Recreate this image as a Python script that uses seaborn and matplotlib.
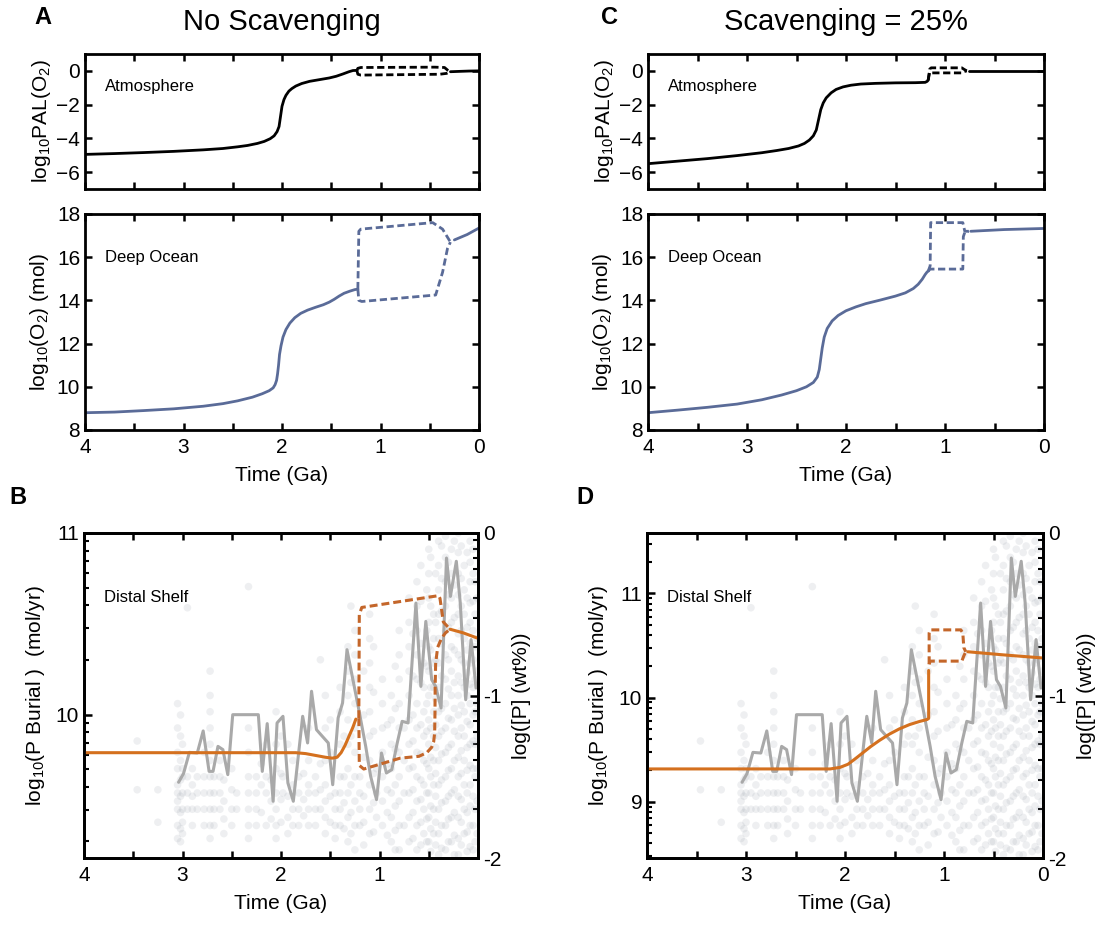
import numpy as np
import matplotlib
matplotlib.use('Agg')
import matplotlib.pyplot as plt
import seaborn as sns
from matplotlib.ticker import FixedLocator, NullFormatter, LogLocator

sns.set_style('ticks')
plt.rcParams['font.family'] = ['Liberation Sans', 'DejaVu Sans']
plt.rcParams['mathtext.fontset'] = 'custom'
plt.rcParams['mathtext.rm'] = 'Liberation Sans'
plt.rcParams['mathtext.it'] = 'Liberation Sans:italic'
plt.rcParams['axes.linewidth'] = 2.0
plt.rcParams['axes.edgecolor'] = 'black'
for k in ('text.color', 'axes.labelcolor', 'xtick.color', 'ytick.color'):
    plt.rcParams[k] = 'black'

# ---------------- A : no scavenging ----------------
a_atm_age = [4.0, 3.7, 3.4, 3.1, 2.8, 2.6, 2.45, 2.35, 2.25, 2.18, 2.12, 2.08, 2.05,
             2.03, 2.02, 2.01, 2.0, 1.98, 1.96, 1.93, 1.9, 1.86, 1.8, 1.72, 1.62,
             1.52, 1.45, 1.38, 1.32, 1.28, 1.24]
a_atm_val = [-4.95, -4.9, -4.84, -4.77, -4.68, -4.6, -4.5, -4.42, -4.3, -4.18, -4.02,
             -3.85, -3.6, -3.3, -2.9, -2.5, -2.1, -1.7, -1.45, -1.2, -1.05, -0.9,
             -0.75, -0.62, -0.52, -0.42, -0.32, -0.18, -0.05, 0.02, 0.03]
a_atm_up_age = [1.24, 1.23, 1.2, 0.45, 0.35, 0.32, 0.29]
a_atm_up_val = [0.03, 0.15, 0.2, 0.22, 0.2, 0.05, -0.05]
a_atm_lo_age = [1.24, 1.23, 1.2, 0.4, 0.33, 0.29]
a_atm_lo_val = [0.03, -0.2, -0.25, -0.2, -0.15, -0.05]
a_atm_tail_age = [0.29, 0.2, 0.1, 0.0]
a_atm_tail_val = [-0.05, -0.03, -0.01, 0.0]

a_oc_age = [4.0, 3.7, 3.4, 3.1, 2.8, 2.6, 2.45, 2.3, 2.2, 2.13, 2.09, 2.07, 2.055,
            2.045, 2.035, 2.025, 2.01, 1.99, 1.96, 1.92, 1.87, 1.81, 1.74, 1.66,
            1.58, 1.52, 1.47, 1.42, 1.37, 1.31, 1.26, 1.23]
a_oc_val = [8.8, 8.83, 8.9, 8.98, 9.1, 9.22, 9.35, 9.52, 9.68, 9.82, 9.95, 10.1, 10.3,
            10.6, 11.0, 11.5, 11.9, 12.3, 12.65, 12.95, 13.2, 13.4, 13.55, 13.68,
            13.8, 13.92, 14.05, 14.2, 14.33, 14.43, 14.5, 14.52]
a_oc_up_age = [1.23, 1.22, 1.2, 0.47, 0.37, 0.29]
a_oc_up_val = [14.52, 17.2, 17.3, 17.6, 17.3, 16.7]
a_oc_lo_age = [1.23, 1.22, 1.19, 0.44, 0.37, 0.32, 0.29]
a_oc_lo_val = [14.52, 14.0, 13.95, 14.25, 15.3, 16.4, 16.7]
a_oc_tail_age = [0.25, 0.12, 0.0]
a_oc_tail_val = [16.8, 17.05, 17.35]

# ---------------- C : scavenging = 25% ----------------
c_atm_age = [4.0, 3.7, 3.4, 3.1, 2.85, 2.7, 2.58, 2.48, 2.42, 2.37, 2.33, 2.3, 2.285,
             2.27, 2.255, 2.23, 2.2, 2.15, 2.1, 2.03, 1.95, 1.85, 1.7, 1.5, 1.3,
             1.2, 1.18, 1.17]
c_atm_val = [-5.5, -5.35, -5.2, -5.02, -4.85, -4.72, -4.6, -4.45, -4.3, -4.1, -3.85,
             -3.5, -3.1, -2.7, -2.3, -1.9, -1.6, -1.3, -1.1, -0.95, -0.85, -0.78,
             -0.74, -0.71, -0.7, -0.68, -0.62, -0.55]
c_atm_up_age = [1.17, 1.155, 1.14, 0.83, 0.81, 0.78]
c_atm_up_val = [-0.55, 0.1, 0.18, 0.18, 0.1, 0.0]
c_atm_lo_age = [1.17, 1.155, 1.14, 0.83, 0.81, 0.78]
c_atm_lo_val = [-0.55, -0.08, -0.12, -0.12, -0.05, 0.0]
c_atm_tail_age = [0.76, 0.4, 0.0]
c_atm_tail_val = [0.0, 0.0, 0.0]

c_oc_age = [4.0, 3.7, 3.4, 3.1, 2.85, 2.65, 2.5, 2.4, 2.33, 2.29, 2.27, 2.255, 2.24,
            2.22, 2.19, 2.14, 2.08, 2.0, 1.9, 1.8, 1.65, 1.5, 1.4, 1.32, 1.27, 1.23,
            1.2, 1.18, 1.17]
c_oc_val = [8.8, 8.92, 9.05, 9.2, 9.4, 9.62, 9.82, 10.0, 10.2, 10.45, 10.8, 11.3, 11.8,
            12.3, 12.7, 13.05, 13.3, 13.52, 13.7, 13.85, 14.02, 14.2, 14.35, 14.55,
            14.75, 14.98, 15.2, 15.32, 15.35]
c_oc_up_age = [1.17, 1.15, 1.145, 0.82, 0.80, 0.76]
c_oc_up_val = [15.35, 15.6, 17.6, 17.6, 17.2, 17.2]
c_oc_lo_age = [1.17, 1.15, 0.82, 0.815, 0.80, 0.76]
c_oc_lo_val = [15.35, 15.45, 15.45, 16.95, 17.15, 17.2]
c_oc_tail_age = [0.74, 0.4, 0.0]
c_oc_tail_val = [17.2, 17.28, 17.33]

# ---------------- B / D : distal shelf P burial (log10 mol/yr) ----------------
b_p_age = [4.0, 1.85, 1.75, 1.65, 1.55, 1.48, 1.43, 1.39, 1.35, 1.31, 1.27, 1.24]
b_p_val = [9.79, 9.79, 9.785, 9.775, 9.765, 9.76, 9.765, 9.79, 9.83, 9.88, 9.93, 9.975]
b_p_up_age = [1.21, 1.205, 1.18, 0.40, 0.386, 0.352, 0.284]
b_p_up_val = [9.98, 10.55, 10.59, 10.655, 10.64, 10.51, 10.47]
b_p_lo_age = [1.21, 1.205, 1.16, 0.79, 0.6, 0.52, 0.47, 0.45, 0.44, 0.437, 0.435,
              0.43, 0.41, 0.37, 0.33, 0.284]
b_p_lo_val = [9.98, 9.72, 9.70, 9.76, 9.77, 9.79, 9.82, 9.85, 9.9, 10.0, 10.15,
              10.28, 10.37, 10.42, 10.45, 10.47]
b_p_tail_age = [0.284, 0.15, 0.0]
b_p_tail_val = [10.47, 10.45, 10.42]

d_p_age = [4.0, 2.15, 2.05, 1.97, 1.9, 1.82, 1.74, 1.65, 1.55, 1.45, 1.35, 1.25,
           1.17, 1.155, 1.155]
d_p_val = [9.315, 9.315, 9.33, 9.36, 9.41, 9.47, 9.53, 9.59, 9.65, 9.70, 9.74, 9.77,
           9.79, 9.80, 10.26]
d_p_up_age = [1.15, 1.15, 1.14, 0.83, 0.81, 0.80, 0.78]
d_p_up_val = [10.32, 10.62, 10.65, 10.65, 10.62, 10.48, 10.44]
d_p_lo_age = [1.15, 1.14, 0.82, 0.80, 0.78]
d_p_lo_val = [10.32, 10.35, 10.35, 10.40, 10.44]
d_p_tail_age = [0.76, 0.4, 0.0]
d_p_tail_val = [10.44, 10.41, 10.38]

# ---------------- shale P data, log10 wt% (right axis) ----------------
pmean_age = [3.04, 2.99, 2.93, 2.85, 2.79, 2.73, 2.69, 2.64, 2.59, 2.54, 2.49, 2.23,
             2.19, 2.14, 2.08, 2.04, 1.98, 1.93, 1.875, 1.78, 1.73, 1.69, 1.64, 1.61,
             1.52, 1.475, 1.42, 1.375, 1.33, 1.29, 1.21, 1.14, 1.09, 1.03, 0.98, 0.93,
             0.875, 0.82, 0.77, 0.71, 0.63, 0.58, 0.53, 0.47, 0.43, 0.375, 0.32, 0.28,
             0.22, 0.18, 0.125, 0.07, 0.02]
pmean_val = [-1.534, -1.481, -1.350, -1.354, -1.218, -1.467, -1.467, -1.313, -1.333,
             -1.487, -1.118, -1.118, -1.467, -1.173, -1.651, -1.169, -1.128, -1.538,
             -1.651, -1.128, -1.292, -0.974, -1.210, -1.231, -1.292, -1.549, -1.138,
             -1.046, -0.718, -0.841, -1.087, -1.313, -1.497, -1.641, -1.354, -1.477,
             -1.456, -1.292, -1.159, -1.169, -0.431, -0.944, -0.544, -0.903, -0.944,
             -1.077, -0.154, -0.390, -0.174, -0.431, -1.026, -0.656, -0.954]

pdata_col_age = [3.46, 3.25, 3.05, 3.02, 3.0, 2.95, 2.9, 2.85, 2.78, 2.72, 2.68, 2.62,
                 2.58, 2.5, 2.45, 2.33, 2.25, 2.2, 2.15, 2.1, 2.05, 2.0, 1.98, 1.93,
                 1.88, 1.82, 1.77, 1.72, 1.65, 1.6, 1.55, 1.5, 1.45, 1.4, 1.36, 1.32,
                 1.29, 1.25, 1.2, 1.16, 1.1, 1.06, 1.03, 0.97, 0.92, 0.88, 0.84, 0.8,
                 0.75, 0.7, 0.66, 0.62, 0.58, 0.55, 0.52, 0.5, 0.48, 0.45, 0.43, 0.4,
                 0.37, 0.33, 0.3, 0.27, 0.24, 0.2, 0.17, 0.14, 0.11, 0.08, 0.05, 0.03,
                 0.01]
pdata_col_val = [
    [-1.28, -1.58],
    [-1.58, -1.78],
    [-1.05, -1.2, -1.35, -1.45, -1.55, -1.6, -1.65, -1.7, -1.8, -1.88],
    [-1.12, -1.25, -1.4, -1.52, -1.62, -1.72, -1.82, -1.9],
    [-1.3, -1.45, -1.5, -1.6, -1.7, -1.78, -1.85],
    [-0.46, -1.5, -1.6, -1.7],
    [-1.45, -1.55, -1.62, -1.7, -1.8],
    [-1.5, -1.6, -1.7],
    [-1.35, -1.5, -1.6, -1.7, -1.8],
    [-0.85, -1.0, -1.1, -1.2, -1.3, -1.4, -1.5, -1.6, -1.7, -1.8, -1.88],
    [-1.5, -1.6, -1.7, -1.8],
    [-1.4, -1.5, -1.6, -1.7],
    [-1.52, -1.65, -1.76, -1.85],
    [-1.45, -1.58, -1.7, -1.8],
    [-1.6, -1.7],
    [-0.33, -1.2, -1.35, -1.5, -1.6, -1.7, -1.8, -1.88],
    [-1.5, -1.6, -1.7, -1.8],
    [-1.42, -1.55, -1.72],
    [-1.3, -1.5, -1.6, -1.8],
    [-1.52, -1.65, -1.76],
    [-1.1, -1.3, -1.45, -1.6, -1.7, -1.8, -1.88],
    [-1.25, -1.48, -1.64, -1.78],
    [-1.5, -1.6],
    [-1.3, -1.62, -1.75, -1.85],
    [-1.4, -1.55, -1.6, -1.7, -1.8],
    [-1.5, -1.6, -1.7, -1.8],
    [-1.48, -1.64, -1.74],
    [-1.2, -1.4, -1.55, -1.6, -1.7, -1.8],
    [-1.5, -1.6, -1.7, -1.8],
    [-0.78, -1.42, -1.58, -1.7],
    [-1.0, -1.2, -1.4, -1.55, -1.65, -1.75, -1.85],
    [-1.15, -1.35, -1.62, -1.78],
    [-1.6, -1.7, -1.8, -1.88],
    [-0.95, -1.1, -1.3, -1.5, -1.6, -1.7, -1.8],
    [-1.25, -1.5, -1.66, -1.82],
    [-0.7, -0.85, -1.0, -1.15, -1.3, -1.45, -1.6, -1.75, -1.9],
    [-0.45, -0.92, -1.25, -1.55, -1.72, -1.85],
    [-0.6, -0.75, -0.9, -1.05, -1.2, -1.35, -1.5, -1.65, -1.8, -1.95],
    [-1.5, -1.6, -1.7, -1.8],
    [-0.85, -1.12, -1.38, -1.62, -1.78, -1.92],
    [-0.5, -0.65, -0.8, -0.95, -1.1, -1.25, -1.4, -1.55, -1.7, -1.85],
    [-0.7, -0.98, -1.22, -1.48, -1.66, -1.84],
    [-1.45, -1.6, -1.75],
    [-0.9, -1.05, -1.2, -1.35, -1.5, -1.65, -1.8],
    [-1.18, -1.42, -1.58, -1.72, -1.86],
    [-1.0, -1.15, -1.3, -1.45, -1.6, -1.75, -1.9],
    [-0.82, -1.08, -1.33, -1.55, -1.68, -1.83, -1.95],
    [-0.6, -0.75, -0.9, -1.05, -1.2, -1.35, -1.5, -1.65, -1.8, -1.95],
    [-1.2, -1.4, -1.6, -1.8],
    [-0.4, -0.55, -0.7, -0.85, -1.0, -1.15, -1.3, -1.45, -1.6, -1.75, -1.9],
    [-0.62, -0.88, -1.12, -1.28, -1.44, -1.58, -1.72, -1.88],
    [-0.3, -0.45, -0.6, -0.75, -0.9, -1.05, -1.2, -1.35, -1.5, -1.65, -1.8, -1.95],
    [-0.2, -0.42, -0.68, -0.92, -1.18, -1.36, -1.52, -1.64, -1.78, -1.92],
    [-0.8, -0.95, -1.1, -1.25, -1.4, -1.55, -1.7, -1.85],
    [-0.35, -0.6, -0.82, -1.05, -1.22, -1.42, -1.6, -1.76, -1.9],
    [-0.1, -0.25, -0.4, -0.55, -0.7, -0.85, -1.0, -1.15, -1.3, -1.45, -1.6, -1.75, -1.9],
    [-0.15, -0.45, -0.72, -0.95, -1.2, -1.38, -1.5, -1.68, -1.82, -1.96],
    [-0.5, -0.65, -0.8, -0.95, -1.1, -1.25, -1.4, -1.55, -1.7, -1.85],
    [-0.25, -0.55, -0.78, -1.02, -1.18, -1.32, -1.48, -1.62, -1.78, -1.92],
    [-0.05, -0.2, -0.35, -0.5, -0.65, -0.8, -0.95, -1.1, -1.25, -1.4, -1.55, -1.7,
     -1.85, -1.98],
    [-0.08, -0.28, -0.48, -0.68, -0.88, -1.08, -1.22, -1.36, -1.52, -1.66, -1.8, -1.94],
    [-0.02, -0.15, -0.3, -0.45, -0.6, -0.75, -0.9, -1.05, -1.2, -1.35, -1.5, -1.65,
     -1.8, -1.95],
    [-0.18, -0.38, -0.58, -0.78, -0.96, -1.14, -1.32, -1.46, -1.62, -1.76, -1.9],
    [-0.1, -0.25, -0.4, -0.55, -0.7, -0.85, -1.0, -1.15, -1.3, -1.45, -1.6, -1.75, -1.9],
    [-0.05, -0.32, -0.52, -0.72, -0.92, -1.08, -1.22, -1.4, -1.58, -1.72, -1.86, -1.98],
    [0.0, -0.12, -0.25, -0.38, -0.5, -0.62, -0.75, -0.88, -1.0, -1.12, -1.25, -1.38,
     -1.5, -1.62, -1.75, -1.88, -1.98],
    [-0.08, -0.28, -0.45, -0.6, -0.78, -0.92, -1.06, -1.2, -1.34, -1.48, -1.64, -1.78,
     -1.92],
    [-0.2, -0.35, -0.5, -0.65, -0.8, -0.95, -1.1, -1.25, -1.4, -1.55, -1.7, -1.85],
    [-0.12, -0.4, -0.58, -0.72, -0.86, -1.0, -1.16, -1.32, -1.46, -1.6, -1.72, -1.84,
     -1.96],
    [-0.05, -0.18, -0.3, -0.43, -0.55, -0.68, -0.8, -0.93, -1.05, -1.18, -1.3, -1.43,
     -1.55, -1.68, -1.8, -1.93],
    [-0.1, -0.25, -0.42, -0.6, -0.78, -0.95, -1.12, -1.28, -1.45, -1.62, -1.8, -1.95],
    [-0.3, -0.5, -0.7, -0.9, -1.1, -1.3, -1.5, -1.7, -1.9],
    [-0.4, -0.65, -0.85, -1.05, -1.25, -1.45, -1.65, -1.85],
]

BLACK = 'black'
BLUE = '#5a6b98'
ORANGE = '#d4701e'
ORANGE_D = '#c4662a'
GRAY = '#a9a9a9'
DOT = '#98a0ac'
DASH = (2.6, 1.3)

W, H = 1099, 926
fig = plt.figure(figsize=(W / 100, H / 100), dpi=100)


def box(x0, y0, x1, y1):
    return [x0 / W, 1 - y1 / H, (x1 - x0) / W, (y1 - y0) / H]


def line(ax, x, y, color, dashed=False, lw=2.0):
    sns.lineplot(x=x, y=y, ax=ax, color=color, lw=lw, sort=False,
                 estimator=None, legend=False)
    if dashed:
        ax.lines[-1].set_dashes(DASH)


def time_axis(ax, show=True, zero_label=True):
    ax.set_xlim(4, 0)
    ax.set_xticks([4, 3, 2, 1, 0])
    ax.set_xticks([3.5, 2.5, 1.5, 0.5], minor=True)
    if show:
        ax.set_xticklabels(['4', '3', '2', '1', '0' if zero_label else ''])
        ax.set_xlabel('Time (Ga)', fontsize=15, labelpad=6)
    else:
        ax.set_xticklabels([])
    ax.tick_params(axis='x', which='both', direction='in', length=5, width=1.8,
                   top=True, bottom=True, labelsize=15, pad=6)


def o2_panels(top, bot, atm, oc):
    for x, y, d in atm:
        line(top, x, y, BLACK, d)
    top.set_ylim(-7, 1)
    top.set_yticks([0, -2, -4, -6])
    top.set_ylabel('log$_{10}$PAL(O$_2$)', fontsize=15, labelpad=2)
    top.text(0.05, 0.76, 'Atmosphere', transform=top.transAxes, fontsize=12,
             va='center')
    time_axis(top, show=False)
    for x, y, d in oc:
        line(bot, x, y, BLUE, d)
    bot.set_ylim(8, 18)
    bot.set_yticks([8, 10, 12, 14, 16, 18])
    bot.set_ylabel('log$_{10}$(O$_2$) (mol)', fontsize=15, labelpad=4)
    bot.text(0.05, 0.80, 'Deep Ocean', transform=bot.transAxes, fontsize=12,
             va='center')
    time_axis(bot)
    for a in (top, bot):
        a.tick_params(axis='y', which='both', direction='in', length=5, width=1.8,
                      left=True, right=True, labelsize=15)


def shelf_panel(ax, segs, ylo, yhi, zero_label):
    tw = ax.twinx()
    tw.set_yscale('log')
    ax.set_yscale('log')
    pa = np.concatenate([[a] * len(v) for a, v in zip(pdata_col_age, pdata_col_val)])
    pv = np.concatenate([np.array(v, float) for v in pdata_col_val])
    sns.scatterplot(x=pa, y=10 ** pv, ax=tw, color=DOT, alpha=0.16, s=30,
                    edgecolor='none', linewidth=0, legend=False)
    line(tw, pmean_age, 10 ** np.array(pmean_val), GRAY, lw=2.2)
    tw.set_ylim(0.01, 1)
    tw.yaxis.set_major_locator(FixedLocator([0.01, 0.1, 1]))
    tw.set_yticklabels(['-2', '-1', '0'])
    tw.yaxis.set_minor_locator(LogLocator(base=10, subs=np.arange(2, 10)))
    tw.yaxis.set_minor_formatter(NullFormatter())
    tw.set_ylabel('log([P] (wt%))', fontsize=15, labelpad=8)
    tw.tick_params(axis='y', which='major', direction='in', length=6, width=1.8,
                   labelsize=15)
    tw.tick_params(axis='y', which='minor', direction='in', length=3.5, width=1.5)

    for x, y, d in segs:
        line(ax, x, 10 ** np.array(y), ORANGE_D if d else ORANGE, d, lw=2.2)
    ax.set_ylim(10 ** ylo, 10 ** yhi)
    ax.yaxis.set_major_locator(FixedLocator([1e9, 1e10, 1e11]))
    ax.set_yticklabels(['9', '10', '11'])
    ax.yaxis.set_minor_locator(LogLocator(base=10, subs=np.arange(2, 10)))
    ax.yaxis.set_minor_formatter(NullFormatter())
    ax.set_ylabel('log$_{10}$(P Burial )  (mol/yr)', fontsize=15, labelpad=6)
    ax.tick_params(axis='y', which='major', direction='in', length=6, width=1.8,
                   labelsize=15, right=False)
    ax.tick_params(axis='y', which='minor', direction='in', length=3.5, width=1.5,
                   right=False)
    time_axis(ax, zero_label=zero_label)
    ax.text(0.05, 0.80, 'Distal Shelf', transform=ax.transAxes, fontsize=12,
            va='center')
    ax.set_zorder(tw.get_zorder() + 1)
    ax.patch.set_visible(False)


ax_a1 = fig.add_axes(box(85, 54, 479, 189))
ax_a2 = fig.add_axes(box(85, 214, 479, 430))
ax_b = fig.add_axes(box(84, 533, 478, 858))
ax_c1 = fig.add_axes(box(648, 54, 1044, 189))
ax_c2 = fig.add_axes(box(648, 214, 1044, 430))
ax_d = fig.add_axes(box(647, 533, 1043, 858))

o2_panels(ax_a1, ax_a2,
          [(a_atm_age, a_atm_val, False), (a_atm_up_age, a_atm_up_val, True),
           (a_atm_lo_age, a_atm_lo_val, True), (a_atm_tail_age, a_atm_tail_val, False)],
          [(a_oc_age, a_oc_val, False), (a_oc_up_age, a_oc_up_val, True),
           (a_oc_lo_age, a_oc_lo_val, True), (a_oc_tail_age, a_oc_tail_val, False)])
o2_panels(ax_c1, ax_c2,
          [(c_atm_age, c_atm_val, False), (c_atm_up_age, c_atm_up_val, True),
           (c_atm_lo_age, c_atm_lo_val, True), (c_atm_tail_age, c_atm_tail_val, False)],
          [(c_oc_age, c_oc_val, False), (c_oc_up_age, c_oc_up_val, True),
           (c_oc_lo_age, c_oc_lo_val, True), (c_oc_tail_age, c_oc_tail_val, False)])

shelf_panel(ax_b,
            [(b_p_age, b_p_val, False), (b_p_up_age, b_p_up_val, True),
             (b_p_lo_age, b_p_lo_val, True), (b_p_tail_age, b_p_tail_val, False)],
            9.21, 11.0, zero_label=False)
shelf_panel(ax_d,
            [(d_p_age, d_p_val, False), (d_p_up_age, d_p_up_val, True),
             (d_p_lo_age, d_p_lo_val, True), (d_p_tail_age, d_p_tail_val, False)],
            8.46, 11.58, zero_label=True)

fig.text(282 / W, 1 - 22 / H, 'No Scavenging', ha='center', va='center', fontsize=21)
fig.text(846 / W, 1 - 22 / H, 'Scavenging = 25%', ha='center', va='center', fontsize=21)
for lab, x, y in [('A', 43, 18), ('C', 610, 18), ('B', 18, 497), ('D', 585, 497)]:
    fig.text(x / W, 1 - y / H, lab, ha='center', va='center', fontsize=17,
             fontweight='bold')

fig.savefig('out.png', dpi=100)
